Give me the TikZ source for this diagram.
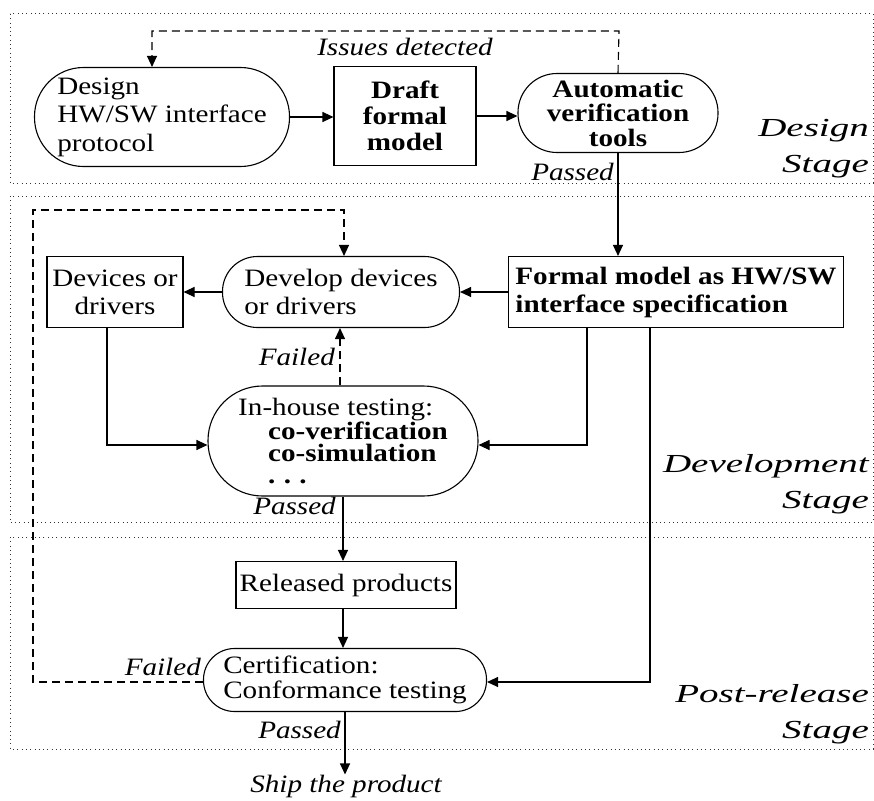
\documentclass[tikz,border=0pt]{standalone}
\usepackage{fontspec}
\setmainfont[FakeStretch=1.165]{Liberation Serif}
\newfontfamily\stagefont[FakeStretch=1.5]{Liberation Serif}
\usetikzlibrary{arrows.meta,calc}
\begin{document}
\begin{tikzpicture}[x=1pt,y=-1pt,
  every node/.style={font=\fontsize{25}{28}\selectfont, inner sep=0pt},
  boxnode/.style={draw, line width=1.1pt, rectangle},
  stadnode/.style={draw, line width=1.1pt, rectangle, rounded corners=#1},
  lbl/.style={font=\fontsize{25}{28}\selectfont\itshape},
  stagelbl/.style={font=\fontsize{26}{36}\selectfont\stagefont\itshape, align=right, anchor=south east},
  stagebox/.style={line width=1pt, dash pattern=on 1pt off 3.3pt, black!80},
  arr/.style={line width=1.1pt, -{Triangle[length=11pt,width=10pt]}},
  dasharr/.style={line width=1.1pt, dash pattern=on 8pt off 5pt, -{Triangle[length=11pt,width=10pt]}},
]
\useasboundingbox (0,0) rectangle (874,800);

% stage boxes
\draw[stagebox] (10,14) rectangle (873,183);
\draw[stagebox] (10,196) rectangle (873,522);
\draw[stagebox] (10,537) rectangle (873,749);

% nodes
\node[stadnode=49pt, minimum width=255pt, minimum height=99pt, align=left, font=\fontsize{25}{28.5}\selectfont] (design) at (162,117)
  {Design\\HW/SW interface\\protocol};
\node[boxnode, minimum width=142pt, minimum height=99pt, align=center, font=\fontsize{25}{26}\selectfont\bfseries] (draft) at (405,116)
  {Draft\\formal\\model};
\node[stadnode=39pt, minimum width=200pt, minimum height=79pt, align=center, font=\fontsize{25}{24.5}\selectfont\bfseries] (auto) at (618,113)
  {Automatic\\verification\\tools};
\node[boxnode, minimum width=335pt, minimum height=71pt, align=left, font=\fontsize{25}{28}\selectfont\bfseries] (formal) at (676,292)
  {Formal model as HW/SW\\interface specification};
\node[stadnode=35pt, minimum width=237pt, minimum height=71pt, align=left] (develop) at (341,292)
  {Develop devices\\or drivers};
\node[boxnode, minimum width=136pt, minimum height=71pt, align=center] (devices) at (115,292)
  {Devices or\\drivers};
\node[stadnode=54.5pt, minimum width=270pt, minimum height=110pt, align=left, font=\fontsize{25}{22}\selectfont] (inhouse) at (343,441)
  {In-house testing:\\\hspace*{30pt}\textbf{co-verification}\\\hspace*{30pt}\textbf{co-simulation}\\\hspace*{30pt}\textbf{.\,\,.\,\,.}};
\node[boxnode, minimum width=220pt, minimum height=47pt] (released) at (346,585)
  {Released products};
\node[stadnode=31pt, minimum width=283pt, minimum height=63pt, align=left, font=\fontsize{25}{25}\selectfont] (cert) at (345,680)
  {Certification:\\Conformance testing};

% labels
\node[lbl] (issues) at (405,47) {Issues detected};
\node[lbl, anchor=east] (passA) at (614,172) {Passed};
\node[lbl, anchor=east] (failA) at (335,357) {Failed};
\node[lbl, anchor=east] (passB) at (336,506) {Passed};
\node[lbl, anchor=east] (failB) at (201,667) {Failed};
\node[lbl, anchor=east] (passC) at (341,730) {Passed};
\node[lbl] (ship) at (346,786) {Ship the product};

\node[stagelbl] (st1) at (869,178) {Design\\Stage};
\node[stagelbl] (st2) at (869,514) {Development\\Stage};
\node[stagelbl] (st3) at (869,744) {Post-release\\Stage};

% connectors
\draw[arr] (design.east) -- (design.east -| draft.west);
\draw[arr] (draft.east) -- (draft.east -| auto.west);
\coordinate (fbA) at (619,31);
\coordinate (fbB) at (152,31);
\draw[dasharr] (auto.north) -- (fbA) -- (fbB) -- (fbB |- design.north);
\draw[arr] (auto.south) -- (auto.south |- formal.north);
\draw[arr] (formal.west) -- (develop.east);
\draw[arr] (develop.west) -- (devices.east);
\draw[arr] ([xshift=-8pt]devices.south) |- ([yshift=-4pt]inhouse.west);
\draw[arr] ([xshift=-89pt]formal.south) |- ([yshift=-4pt]inhouse.east);
\draw[arr] ([xshift=-26pt]formal.south) |- ([yshift=-2pt]cert.east);
\draw[dasharr] ([xshift=-3pt]inhouse.north) -- ([xshift=-3pt]inhouse.north |- develop.south);
\draw[arr] (inhouse.south) -- (inhouse.south |- released.north);
\draw[arr] ([xshift=-3pt]released.south) -- ([xshift=-3pt]released.south |- cert.north);
\coordinate (fcA) at (33,682);
\coordinate (fcB) at (33,210);
\coordinate (fcC) at (344,210);
\draw[dasharr] ([yshift=-2pt]cert.west) -- (fcA) -- (fcB) -- (fcC) -- (fcC |- develop.north);
\draw[arr] (cert.south) -- (cert.south |- ship.north);
\end{tikzpicture}
\end{document}
